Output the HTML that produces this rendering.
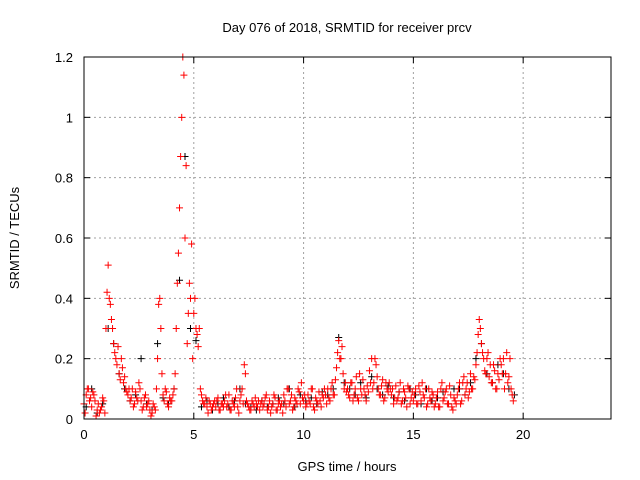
<!DOCTYPE html>
<html><head><meta charset="utf-8"><style>
body{margin:0;background:#fff;}
svg{display:block;font-family:"Liberation Sans",sans-serif;font-size:13px;}
</style></head><body>
<svg id="chart" width="640" height="480">
<rect width="640" height="480" fill="#fff"/>
<text x="347" y="32" text-anchor="middle">Day 076 of 2018, SRMTID for receiver prcv</text>
<text x="347" y="471" text-anchor="middle">GPS time / hours</text>
<text x="0" y="0" transform="translate(19,238) rotate(-90)" text-anchor="middle">SRMTID / TECUs</text>
<g id="grid"></g>
<g id="ticks"></g>
<g id="black"></g>
<g id="red"></g>
<rect x="84" y="57" width="527" height="362" fill="none" stroke="#000" stroke-width="1"/>
</svg>
<script>
const xTicks=[0,5,10,15,20];
const yTicks=[0,0.2,0.4,0.6,0.8,1,1.2];
const yTickLabels=["0","0.2","0.4","0.6","0.8","1","1.2"];
const redA=[.05,.08,.1,.07,.09,.06,.03,.02,.04,.06,
.3,.51,.38,.3,.22,.18,.15,.2,.12,.1,
.08,.06,.1,.05,.07,.12,.06,.04,.08,.05,
.03,.02,.04,.1,.38,.3,.08,.1,.05,.07,
.06,.1,.3,.55,.87,1.2,.6,.25,.45,.58,
.35,.3,.24,.1,.06,.05,.04,.06,.03,.05,
.04,.07,.03,.05,.06,.04,.08,.03,.05,.07,
.04,.06,.1,.18,.06,.04,.03,.05,.07,.04,
.03,.06,.05,.08,.04,.02,.05,.07,.03,.06,
.05,.08,.04,.1,.06,.03,.07,.05,.09,.12,
.06,.04,.08,.05,.1,.03,.06,.09,.04,.07,
.08,.1,.06,.12,.08,.17,.26,.2,.15,.12,
.1,.07,.12,.08,.14,.06,.1,.13,.08,.11,
.16,.2,.12,.18,.1,.08,.13,.07,.1,.12,
.08,.05,.11,.07,.12,.06,.09,.04,.1,.07,
.06,.1,.05,.09,.12,.07,.04,.1,.06,.08,
.05,.09,.04,.12,.07,.1,.05,.08,.03,.06,
.08,.12,.06,.14,.1,.07,.15,.1,.13,.22,
.33,.25,.2,.15,.22,.18,.12,.16,.1,.13,
.18,.2,.15,.12,.2,.08];
const redB=[.02,.1,.06,.04,.08,.01,.05,.03,.07,.02,
.42,.4,.33,.25,.2,.24,.13,.17,.14,.09,
.1,.07,.04,.09,.06,.1,.03,.07,.04,.06,
.01,.05,.03,.2,.4,.15,.06,.09,.04,.06,
.08,.15,.45,.7,1.0,1.14,.84,.35,.4,.2,
.4,.28,.3,.08,.05,.07,.02,.05,.04,.06,
.06,.03,.05,.04,.08,.05,.03,.06,.04,.1,
.02,.08,.05,.15,.05,.03,.06,.04,.05,.06,
.05,.04,.07,.03,.06,.04,.08,.03,.05,.04,
.02,.06,.1,.05,.08,.04,.06,.1,.05,.07,
.08,.05,.06,.1,.04,.07,.05,.06,.08,.1,
.05,.07,.1,.08,.13,.22,.2,.24,.1,.09,
.08,.12,.06,.1,.07,.15,.08,.1,.06,.09,
.12,.1,.2,.14,.08,.11,.06,.12,.09,.1,
.1,.07,.06,.09,.05,.1,.07,.11,.05,.09,
.08,.05,.11,.06,.08,.1,.05,.07,.09,.04,
.07,.04,.1,.06,.09,.05,.11,.04,.07,.05,
.1,.05,.12,.08,.12,.09,.1,.14,.18,.28,
.3,.22,.16,.2,.14,.12,.18,.1,.15,.2,
.15,.1,.22,.14,.1,.06];
const blackVals=[.04,.1,.02,.05,.3,.25,.15,.1,.06,.08,.2,.05,.03,.25,.07,.05,
.1,.46,.87,.3,.26,.04,.06,.03,.05,.07,.04,.06,.1,.05,.04,.03,
.06,.04,.05,.07,.05,.1,.04,.08,.06,.07,.05,.09,.08,.1,.27,.12,
.1,.08,.12,.07,.14,.1,.08,.11,.07,.09,.06,.1,.08,.05,.1,.06,
.07,.09,.05,.1,.1,.08,.12,.2,.25,.15,.12,.18,.15,.1,.08];
const X0=84,X1=611,Y0=419,Y1=57;
const xs=t=>X0+(X1-X0)*t/24;
const ys=v=>Y0-(Y0-Y1)*v/1.2;
const NS="http://www.w3.org/2000/svg";
function mk(tag,attrs,parent){const e=document.createElementNS(NS,tag);for(const k in attrs)e.setAttribute(k,attrs[k]);parent.appendChild(e);return e;}
const grid=document.getElementById('grid'),ticks=document.getElementById('ticks');
xTicks.forEach(t=>{const x=xs(t);
 if(t>0){const g=mk('line',{x1:x,x2:x,y1:Y1,y2:Y0,stroke:'#a0a0a0','stroke-dasharray':'2,3'},grid);
 
 }
 mk('line',{x1:x,x2:x,y1:Y0,y2:Y0-6,stroke:'#000'},ticks);
 mk('line',{x1:x,x2:x,y1:Y1,y2:Y1+6,stroke:'#000'},ticks);
 const l=mk('text',{x:x,y:Y0+20,'text-anchor':'middle'},ticks);l.textContent=t;
 
 
});
yTicks.forEach((v,i)=>{const y=ys(v);
 if(v>0&&v<1.2){const g=mk('line',{x1:X0,x2:X1,y1:y,y2:y,stroke:'#a0a0a0','stroke-dasharray':'2,3'},grid);
 
 }
 mk('line',{x1:X0,x2:X0+6,y1:y,y2:y,stroke:'#000'},ticks);
 mk('line',{x1:X1,x2:X1-6,y1:y,y2:y,stroke:'#000'},ticks);
 const l=mk('text',{x:X0-11,y:y+5,'text-anchor':'end'},ticks);l.textContent=yTickLabels[i];
 
 
});
function plus(g,x,y,c){
 const p=mk('path',{d:`M${x-3.5},${y}h7M${x},${y-3.5}v7`,stroke:c,'stroke-width':1,fill:'none'},g);
 
 
}
const bg=document.getElementById('black'),rg=document.getElementById('red');
blackVals.forEach((v,i)=>plus(bg,xs(i*0.25+0.1),ys(v),'#000'));
redA.forEach((v,i)=>plus(rg,xs(i*0.1),ys(v),'#ff0000'));
redB.forEach((v,i)=>plus(rg,xs(i*0.1+0.05),ys(v),'#ff0000'));
</script>
</body></html>
